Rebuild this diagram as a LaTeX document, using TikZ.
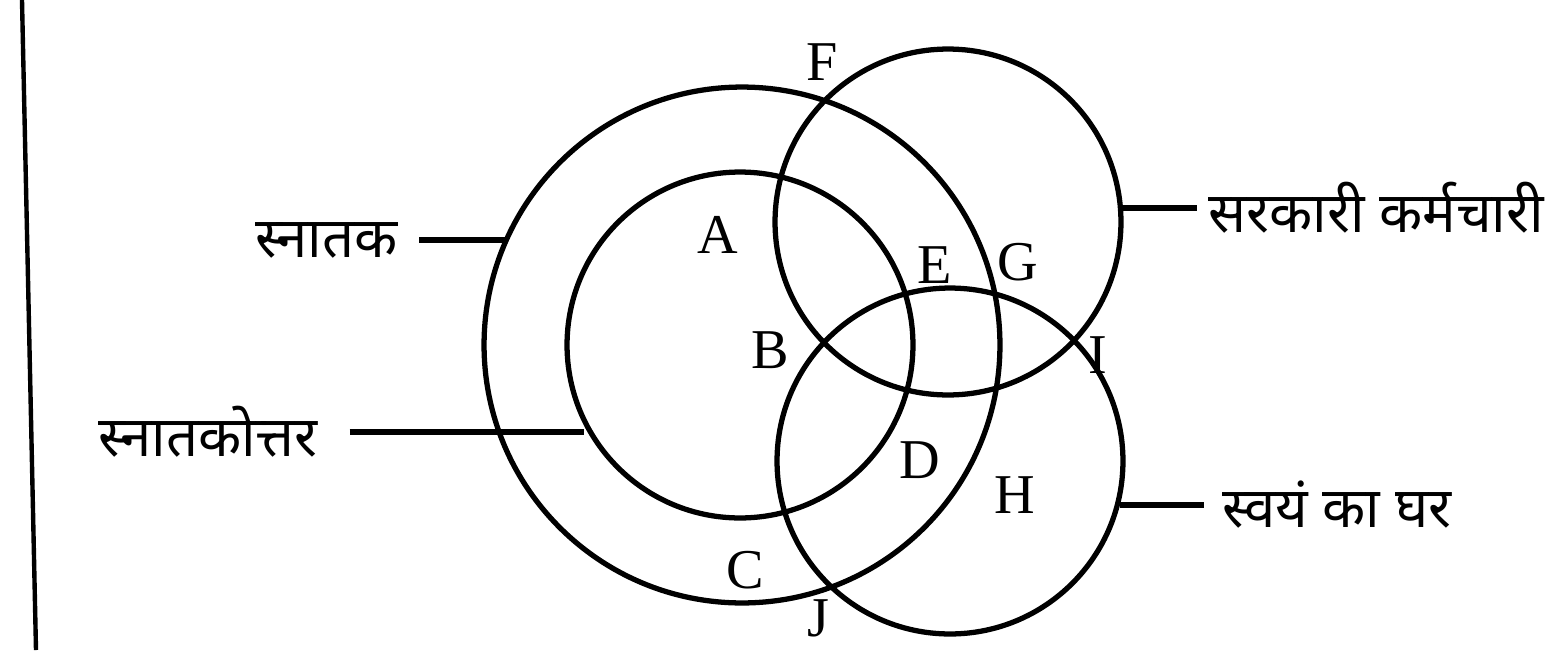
\documentclass[tikz,border=0pt]{standalone}
\usepackage{fontspec}
\setmainfont{Liberation Serif}
\newfontfamily\hindi[Script=Devanagari]{Noto Sans}
\begin{document}
\begin{tikzpicture}[x=0.02cm,y=-0.02cm,
  venn/.style={line width=3pt, black},
  lead/.style={line width=3pt, black},
  ltr/.style={font=\fontsize{32}{36}\selectfont, inner sep=0pt},
  hl/.style={font=\hindi\fontsize{32}{36}\selectfont, inner sep=0pt}]
\useasboundingbox (0,0) rectangle (1552,650);
% left margin rule
\draw[line width=2.5pt] (22,0) -- (36,650);
% circles
\coordinate (o1) at (742,345);
\coordinate (o2) at (740,345);
\coordinate (o3) at (948,222);
\coordinate (o4) at (950,461);
\draw[venn] (o1) circle[radius=5.16cm];
\draw[venn] (o2) circle[radius=3.46cm];
\draw[venn] (o3) circle[radius=3.46cm];
\draw[venn] (o4) circle[radius=3.46cm];
% letters
\node[ltr] (A) at (718,235) {A};
\node[ltr] (B) at (770,350) {B};
\node[ltr] (C) at (745,570) {C};
\node[ltr] (D) at (920,460) {D};
\node[ltr] (E) at (935,265) {E};
\node[ltr] (F) at (822,62) {F};
\node[ltr] (G) at (1018,262) {G};
\node[ltr] (H) at (1015,495) {H};
\node[ltr] (I) at (1098,355) {I};
\node[ltr] (J) at (818,618) {J};
% labels
\node[hl, anchor=east] (t1) at (398,240) {स्नातक};
\coordinate (c1) at (506,240);
\draw[lead] ([xshift=12pt]t1.east) -- (c1);
\node[hl, anchor=east] (t2) at (318,432) {स्नातकोत्तर};
\coordinate (c2) at (584,432);
\draw[lead] ([xshift=18pt]t2.east) -- (c2);
\coordinate (c3) at (1120,208);
\node[hl, anchor=west] (t3) at (1208,208) {सरकारी कर्मचारी};
\draw[lead] (c3) -- ([xshift=-6pt]t3.west);
\coordinate (c4) at (1120,505);
\node[hl, anchor=west] (t4) at (1222,505) {स्वयं का घर};
\draw[lead] (c4) -- ([xshift=-10pt]t4.west);
\end{tikzpicture}
\end{document}
